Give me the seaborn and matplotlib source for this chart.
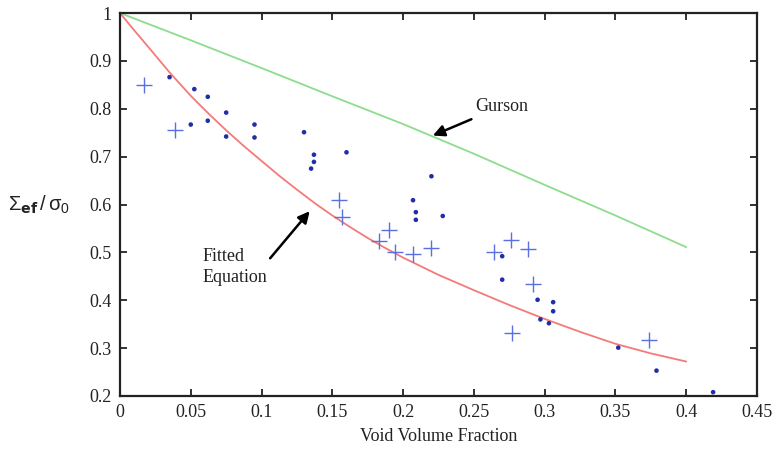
import numpy as np
import pandas as pd
import matplotlib
matplotlib.use("Agg")
import matplotlib.pyplot as plt
import seaborn as sns

# Experimental data (dots)
dot_x = [0.035, 0.0525, 0.062, 0.050, 0.062, 0.075, 0.075, 0.095, 0.095,
         0.130, 0.137, 0.137, 0.135, 0.160, 0.220, 0.207, 0.209, 0.209, 0.228,
         0.270, 0.270, 0.295, 0.306, 0.306, 0.297, 0.303, 0.352, 0.379, 0.419]
dot_y = [0.866, 0.841, 0.825, 0.767, 0.775, 0.792, 0.742, 0.767, 0.740,
         0.751, 0.704, 0.689, 0.675, 0.709, 0.659, 0.609, 0.584, 0.568, 0.576,
         0.492, 0.443, 0.401, 0.396, 0.377, 0.360, 0.352, 0.301, 0.253, 0.208]

# Simulation data (plus markers)
plus_x = [0.017, 0.039, 0.155, 0.157, 0.190, 0.183, 0.194, 0.207, 0.220,
          0.264, 0.276, 0.288, 0.292, 0.277, 0.374]
plus_y = [0.849, 0.756, 0.609, 0.573, 0.546, 0.524, 0.500, 0.497, 0.510,
          0.501, 0.526, 0.508, 0.434, 0.331, 0.316]

# Gurson curve
gurson_x = [0.0, 0.05, 0.1, 0.15, 0.2, 0.25, 0.3, 0.35, 0.4]
gurson_y = [1.0, 0.943, 0.885, 0.826, 0.768, 0.706, 0.641, 0.577, 0.511]

# Fitted equation curve
fit_x = [0.0, 0.01, 0.02, 0.035, 0.05, 0.0625, 0.075, 0.0875, 0.1, 0.1125, 0.125,
         0.1375, 0.15, 0.1625, 0.175, 0.1875, 0.2, 0.225, 0.25, 0.275, 0.3,
         0.325, 0.35, 0.375, 0.4]
fit_y = [1.0, 0.964, 0.929, 0.876, 0.827, 0.790, 0.755, 0.722, 0.691, 0.660, 0.631,
         0.603, 0.577, 0.553, 0.530, 0.509, 0.489, 0.453, 0.421, 0.390, 0.361,
         0.334, 0.309, 0.289, 0.272]

x_ticks = [0, 0.05, 0.1, 0.15, 0.2, 0.25, 0.3, 0.35, 0.4, 0.45]
x_tick_labels = ["0", "0.05", "0.1", "0.15", "0.2", "0.25", "0.3", "0.35", "0.4", "0.45"]
y_ticks = [0.2, 0.3, 0.4, 0.5, 0.6, 0.7, 0.8, 0.9, 1.0]
y_tick_labels = ["0.2", "0.3", "0.4", "0.5", "0.6", "0.7", "0.8", "0.9", "1"]

sns.set_style("ticks")
plt.rcParams['font.family'] = ['Liberation Serif', 'DejaVu Serif']
plt.rcParams['mathtext.fontset'] = 'custom'
plt.rcParams['mathtext.rm'] = 'Liberation Sans'
plt.rcParams['mathtext.it'] = 'Liberation Sans'

fig = plt.figure(figsize=(7.77, 4.54), dpi=100)
ax = fig.add_axes([120/777, 1-396/454, (757-120)/777, (396-13)/454])

sns.lineplot(x=gurson_x, y=gurson_y, ax=ax, color="#8edc8e", linewidth=1.3)
sns.lineplot(x=fit_x, y=fit_y, ax=ax, color="#f47a7a", linewidth=1.3)
sns.scatterplot(x=dot_x, y=dot_y, ax=ax, color="#1f2fa8", s=11, marker="o",
                edgecolor="none", zorder=3)
sns.scatterplot(x=plus_x, y=plus_y, ax=ax, color="#5a6fe0", s=120, marker="+",
                linewidth=1.0, zorder=3)

ax.set_xlim(0, 0.45)
ax.set_ylim(0.2, 1.0)
ax.set_xticks(x_ticks)
ax.set_xticklabels(x_tick_labels)
ax.set_yticks(y_ticks)
ax.set_yticklabels(y_tick_labels)
ax.tick_params(direction="in", length=5, width=1.3, top=True, right=True,
               labelsize=13, colors="#222222", pad=6)
for sp in ax.spines.values():
    sp.set_visible(True)
    sp.set_linewidth(1.6)
    sp.set_color("#222222")

ax.set_xlabel("Void Volume Fraction", fontsize=13, color="#222222", labelpad=5)
ax.set_ylabel("")
fig.text(8/777, 1-205/454, r"$\Sigma_{\mathbf{ef}}\,/\,\sigma_0$", fontsize=14.5,
         ha="left", va="center", color="#222222")

ax.annotate("Gurson", xy=(0.221, 0.744), xytext=(0.251, 0.805),
            fontsize=13, color="#222222", va="center", ha="left",
            arrowprops=dict(arrowstyle="-|>", color="black", lw=1.8,
                            mutation_scale=17, shrinkA=2, shrinkB=0))
ax.annotate("Fitted\nEquation", xy=(0.134, 0.586), xytext=(0.058, 0.47),
            fontsize=13, color="#222222", va="center", ha="left",
            linespacing=1.3,
            arrowprops=dict(arrowstyle="-|>", color="black", lw=1.8,
                            mutation_scale=17, shrinkA=0, shrinkB=0,
                            relpos=(1.0, 0.62)))

fig.savefig("out.png", dpi=100)
